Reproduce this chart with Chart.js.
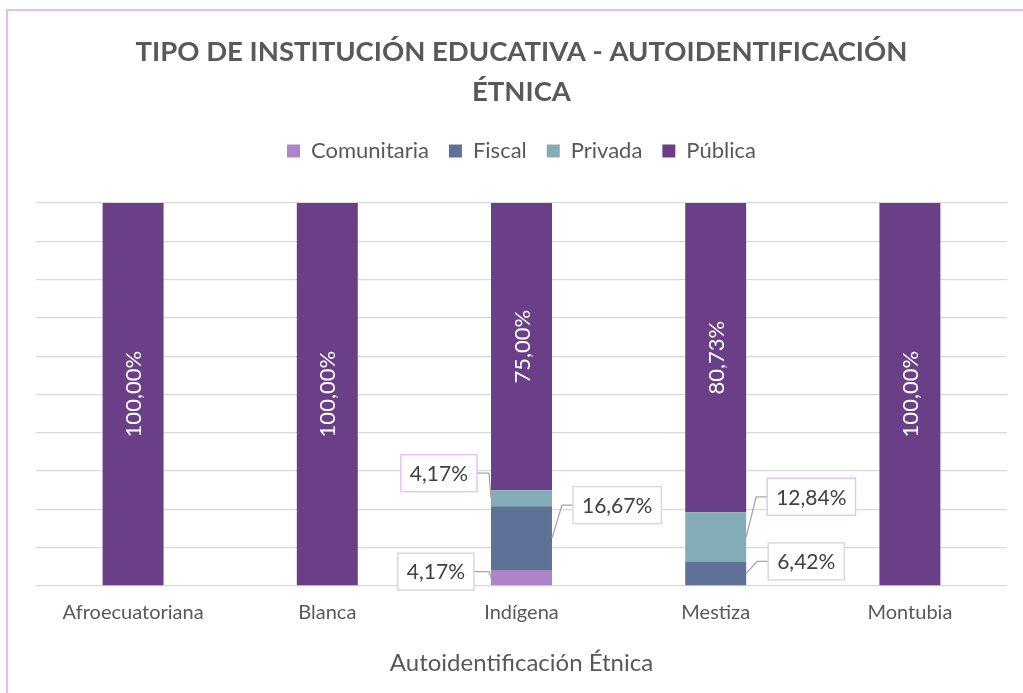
<!DOCTYPE html>
<html>
<head>
<meta charset="utf-8">
<script src="https://cdn.jsdelivr.net/npm/chart.js@4/dist/chart.umd.min.js"></script>
<style>
  html, body { margin: 0; padding: 0; background: #ffffff; }
  #wrap { position: relative; width: 1023px; height: 693px; }
</style>
</head>
<body>
<div id="wrap"><canvas id="c" width="1023" height="693"></canvas></div>
<script>
// ---- data ----
const categories = ['Afroecuatoriana', 'Blanca', 'Indígena', 'Mestiza', 'Montubia'];
const seriesNames = ['Comunitaria', 'Fiscal', 'Privada', 'Pública'];
const comunitaria = [0, 0, 4.17, 0, 0];
const fiscal      = [0, 0, 16.67, 6.42, 0];
const privada     = [0, 0, 4.17, 12.84, 0];
const publica     = [100, 100, 75.00, 80.73, 100];
const chartTitle = ['TIPO DE INSTITUCIÓN EDUCATIVA - AUTOIDENTIFICACIÓN', 'ÉTNICA'];
const xAxisTitle = 'Autoidentificación Étnica';

// ---- styles ----
const colors = ['#ad84c6', '#5e7196', '#84acb6', '#6b3f87'];
const FONT = 'Lato';
const TEXT = '#595959';

// callout placement (layout only): dataset index, category index, side, gap from bar, vertical shift, border colour
const callouts = [
  { ds: 0, i: 2, side: 'left',  gap: 17, dy: -6,  border: '#d9d9d9' },
  { ds: 1, i: 2, side: 'right', gap: 21, dy: -33, border: '#d9d9d9' },
  { ds: 2, i: 2, side: 'left',  gap: 14, dy: -25, border: '#e8c2f8' },
  { ds: 1, i: 3, side: 'right', gap: 22, dy: -12, border: '#d9d9d9' },
  { ds: 2, i: 3, side: 'right', gap: 21, dy: -40, border: '#e8c2f8' }
];

const fmt = v => v.toFixed(2).replace('.', ',') + '%';

const frame = {
  id: 'frame',
  beforeDraw(chart) {
    const ctx = chart.ctx;
    ctx.save();
    ctx.fillStyle = '#ffffff';
    ctx.fillRect(0, 0, chart.width, chart.height);
    ctx.strokeStyle = '#e6bbf8';
    ctx.lineWidth = 2;
    ctx.strokeRect(7, 10, chart.width + 50, chart.height + 50);
    ctx.restore();
  },
  beforeUpdate(chart) {
    const lg = chart.legend;
    if (lg && !lg._patched) {
      const orig = lg.fit;
      lg.fit = function () { orig.call(this); this.height += 31; };
      lg._patched = true;
    }
  }
};

const labelsPlugin = {
  id: 'labelsPlugin',
  afterDatasetsDraw(chart) {
    const ctx = chart.ctx;
    ctx.save();
    // rotated white labels inside Pública segments
    const pubIdx = 3;
    const meta = chart.getDatasetMeta(pubIdx);
    ctx.font = '22px ' + FONT;
    ctx.fillStyle = '#ffffff';
    ctx.textAlign = 'center';
    ctx.textBaseline = 'middle';
    meta.data.forEach((bar, i) => {
      const v = chart.data.datasets[pubIdx].data[i];
      if (!v) return;
      const cy = (bar.y + bar.base) / 2;
      ctx.save();
      ctx.translate(bar.x, cy);
      ctx.rotate(-Math.PI / 2);
      ctx.fillText(fmt(v), 0, 1);
      ctx.restore();
    });

    // callouts
    callouts.forEach(c => {
      const bar = chart.getDatasetMeta(c.ds).data[c.i];
      const v = chart.data.datasets[c.ds].data[c.i];
      const props = bar.getProps(['x', 'y', 'base', 'width'], true);
      const segY = (props.y + props.base) / 2;
      const ax = c.side === 'left' ? props.x - props.width / 2 : props.x + props.width / 2;
      const txt = fmt(v);
      ctx.font = '21px ' + FONT;
      const tw = ctx.measureText(txt).width;
      const bw = tw + 18, bh = 37;
      const cy = segY + c.dy;
      const bx = c.side === 'left' ? ax - c.gap - bw : ax + c.gap;
      // leader line
      const edgeX = c.side === 'left' ? bx + bw : bx;
      const elbowX = c.side === 'left' ? ax - 2 : edgeX - 11;
      ctx.strokeStyle = '#a6a6a6';
      ctx.lineWidth = 1.3;
      ctx.beginPath();
      ctx.moveTo(edgeX, cy);
      ctx.lineTo(elbowX, cy);
      ctx.lineTo(ax, segY);
      ctx.stroke();
      // box
      ctx.fillStyle = '#ffffff';
      ctx.fillRect(bx, cy - bh / 2, bw, bh);
      ctx.strokeStyle = c.border;
      ctx.lineWidth = 1.5;
      ctx.strokeRect(bx, cy - bh / 2, bw, bh);
      ctx.fillStyle = '#404040';
      ctx.textAlign = 'center';
      ctx.textBaseline = 'middle';
      ctx.fillText(txt, bx + bw / 2, cy + 1);
    });
    ctx.restore();
  }
};

const seriesData = [comunitaria, fiscal, privada, publica];

new Chart(document.getElementById('c'), {
  type: 'bar',
  data: {
    labels: categories,
    datasets: seriesNames.map((n, k) => ({
      label: n,
      data: seriesData[k],
      backgroundColor: colors[k],
      borderWidth: 0,
      barPercentage: 1,
      categoryPercentage: 0.314
    }))
  },
  options: {
    responsive: false,
    animation: false,
    devicePixelRatio: 1,
    layout: { padding: { top: 32, left: 36, right: 16, bottom: 0 } },
    plugins: {
      tooltip: { enabled: false },
      title: {
        display: true,
        text: chartTitle,
        color: TEXT,
        font: { family: FONT, size: 27.5, weight: 'bold', lineHeight: 40 / 27.5 },
        padding: { top: 0, bottom: 8 }
      },
      legend: {
        display: true,
        position: 'top',
        labels: {
          color: TEXT,
          font: { family: FONT, size: 22 },
          boxWidth: 13,
          boxHeight: 13,
          padding: 20
        }
      }
    },
    scales: {
      x: {
        stacked: true,
        grid: { display: false, drawTicks: false },
        border: { display: false },
        ticks: { color: TEXT, font: { family: FONT, size: 20 }, padding: 15, maxRotation: 0 },
        title: {
          display: true,
          text: xAxisTitle,
          color: TEXT,
          font: { family: FONT, size: 24 },
          padding: { top: 8.6, bottom: 15.6 }
        }
      },
      y: {
        stacked: true,
        min: 0,
        max: 100,
        ticks: { display: false, stepSize: 10 },
        grid: { color: '#d9d9d9', lineWidth: 1.3, drawTicks: false },
        border: { display: false }
      }
    }
  },
  plugins: [frame, labelsPlugin]
});
</script>
</body>
</html>
